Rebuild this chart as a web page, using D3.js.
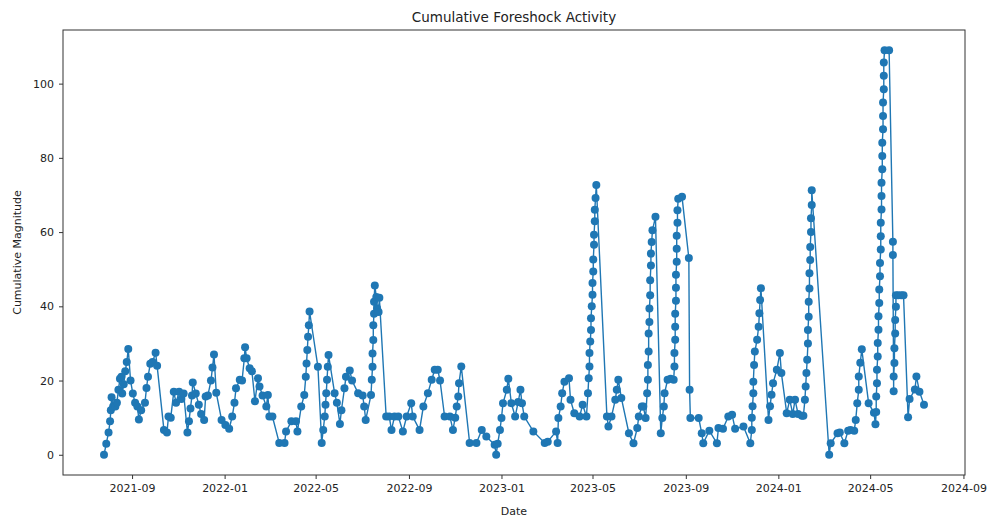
<!DOCTYPE html>
<html>
<head>
<meta charset="utf-8">
<script src="https://cdn.jsdelivr.net/npm/d3@7"></script>
<style>
  body { margin: 0; background: #fff; }
  svg text { font-family: "DejaVu Sans", sans-serif; fill: #222; }
</style>
</head>
<body>
<svg id="chart" width="992" height="518"></svg>
<script>
// Event dates and the running magnitude sum at each event
const dates = [
  "2021-07-26","2021-07-29","2021-08-01","2021-08-03","2021-08-04","2021-08-05","2021-08-07","2021-08-10","2021-08-12","2021-08-14",
  "2021-08-16","2021-08-18","2021-08-19","2021-08-21","2021-08-23","2021-08-25","2021-08-27","2021-08-30","2021-09-02","2021-09-05",
  "2021-09-08","2021-09-10","2021-09-13","2021-09-18","2021-09-20","2021-09-22","2021-09-25","2021-09-28","2021-10-02","2021-10-04",
  "2021-10-13","2021-10-17","2021-10-19","2021-10-22","2021-10-26","2021-10-29","2021-11-02","2021-11-05","2021-11-08","2021-11-13",
  "2021-11-15","2021-11-17","2021-11-19","2021-11-20","2021-11-24","2021-11-28","2021-12-01","2021-12-05","2021-12-07","2021-12-10",
  "2021-12-14","2021-12-16","2021-12-18","2021-12-21","2021-12-28","2022-01-02","2022-01-07","2022-01-11","2022-01-14","2022-01-16",
  "2022-01-21","2022-01-24","2022-01-27","2022-01-28","2022-01-30","2022-02-03","2022-02-06","2022-02-10","2022-02-14","2022-02-16",
  "2022-02-20","2022-02-25","2022-02-27","2022-03-01","2022-03-05","2022-03-14","2022-03-21","2022-03-23","2022-03-30","2022-04-05",
  "2022-04-07","2022-04-12","2022-04-16","2022-04-18","2022-04-19","2022-04-20","2022-04-21","2022-04-22","2022-04-23","2022-05-04",
  "2022-05-09","2022-05-11","2022-05-13","2022-05-14","2022-05-15","2022-05-16","2022-05-17","2022-05-18","2022-05-26","2022-05-29",
  "2022-06-02","2022-06-04","2022-06-08","2022-06-10","2022-06-15","2022-06-18","2022-06-26","2022-07-02","2022-07-04","2022-07-06",
  "2022-07-13","2022-07-14","2022-07-15","2022-07-15","2022-07-16","2022-07-16","2022-07-17","2022-07-17","2022-07-18","2022-07-20",
  "2022-07-21","2022-07-23","2022-07-24","2022-08-02","2022-08-06","2022-08-09","2022-08-13","2022-08-18","2022-08-24","2022-08-29",
  "2022-09-04","2022-09-06","2022-09-15","2022-09-20","2022-09-26","2022-10-01","2022-10-05","2022-10-09","2022-10-12","2022-10-18",
  "2022-10-25","2022-10-29","2022-11-01","2022-11-03","2022-11-05","2022-11-06","2022-11-09","2022-11-20","2022-11-29","2022-12-06",
  "2022-12-12","2022-12-23","2022-12-25","2022-12-27","2022-12-30","2023-01-01","2023-01-03","2023-01-08","2023-01-10","2023-01-14",
  "2023-01-19","2023-01-23","2023-01-26","2023-01-28","2023-01-31","2023-02-12","2023-02-27","2023-03-03","2023-03-14","2023-03-16",
  "2023-03-17","2023-03-20","2023-03-22","2023-03-25","2023-03-31","2023-04-02","2023-04-07","2023-04-14","2023-04-18","2023-04-23",
  "2023-04-25","2023-04-26","2023-04-27","2023-04-27","2023-04-28","2023-04-29","2023-04-29","2023-04-30","2023-05-01","2023-05-01",
  "2023-05-02","2023-05-02","2023-05-03","2023-05-03","2023-05-04","2023-05-04","2023-05-05","2023-05-06","2023-05-20","2023-05-22",
  "2023-05-26","2023-05-31","2023-06-02","2023-06-04","2023-06-08","2023-06-18","2023-06-24","2023-06-29","2023-07-01","2023-07-05",
  "2023-07-07","2023-07-10","2023-07-12","2023-07-13","2023-07-13","2023-07-14","2023-07-14","2023-07-15","2023-07-15","2023-07-16",
  "2023-07-16","2023-07-17","2023-07-17","2023-07-18","2023-07-19","2023-07-23","2023-07-30","2023-08-01","2023-08-03","2023-08-04",
  "2023-08-08","2023-08-12","2023-08-16","2023-08-17","2023-08-17","2023-08-18","2023-08-18","2023-08-18","2023-08-19","2023-08-19",
  "2023-08-19","2023-08-20","2023-08-20","2023-08-20","2023-08-21","2023-08-21","2023-08-22","2023-08-27","2023-09-05","2023-09-06",
  "2023-09-07","2023-09-18","2023-09-22","2023-09-24","2023-10-02","2023-10-12","2023-10-14","2023-10-20","2023-10-27","2023-11-01",
  "2023-11-05","2023-11-16","2023-11-25","2023-11-27","2023-11-27","2023-11-28","2023-11-29","2023-11-29","2023-11-30","2023-12-01",
  "2023-12-04","2023-12-06","2023-12-07","2023-12-08","2023-12-09","2023-12-19","2023-12-21","2023-12-23","2023-12-25","2023-12-30",
  "2024-01-03","2024-01-05","2024-01-12","2024-01-16","2024-01-20","2024-01-23","2024-01-27","2024-02-01","2024-02-03","2024-02-05",
  "2024-02-06","2024-02-07","2024-02-08","2024-02-09","2024-02-09","2024-02-10","2024-02-10","2024-02-11","2024-02-11","2024-02-12",
  "2024-02-12","2024-02-13","2024-02-13","2024-02-14","2024-02-14","2024-03-08","2024-03-10","2024-03-19","2024-03-22","2024-03-28",
  "2024-04-02","2024-04-05","2024-04-10","2024-04-12","2024-04-14","2024-04-16","2024-04-16","2024-04-18","2024-04-20","2024-04-29",
  "2024-05-06","2024-05-08","2024-05-09","2024-05-09","2024-05-10","2024-05-10","2024-05-11","2024-05-11","2024-05-12","2024-05-12",
  "2024-05-13","2024-05-13","2024-05-14","2024-05-14","2024-05-15","2024-05-15","2024-05-15","2024-05-16","2024-05-16","2024-05-16",
  "2024-05-17","2024-05-17","2024-05-17","2024-05-18","2024-05-18","2024-05-18","2024-05-19","2024-05-19","2024-05-19","2024-05-20",
  "2024-05-26","2024-05-31","2024-05-31","2024-06-01","2024-06-01","2024-06-02","2024-06-02","2024-06-03","2024-06-03","2024-06-04",
  "2024-06-04","2024-06-07","2024-06-11","2024-06-14","2024-06-20","2024-06-22","2024-06-29","2024-07-01","2024-07-05","2024-07-11"
];

const magnitudes = [
  0, 3, 6, 9, 12, 15.5, 13, 13, 14, 17.5,
  20.5, 21, 16.5, 19, 22.5, 25, 28.5, 20, 16.5, 14,
  13, 9.5, 12, 14, 18, 21, 24.5, 25, 27.5, 24,
  6.7, 6, 10.3, 10, 17, 14, 17, 15, 16.5, 6,
  9, 12.5, 16, 19.5, 16.5, 13.5, 11, 9.4, 15.7, 16,
  20, 23.5, 27, 16.7, 9.4, 8, 7, 10.3, 14, 17.9,
  20.2, 20, 26, 29, 26, 23.3, 22.5, 14.4, 20.6, 18.4,
  16, 13, 16.1, 10.3, 10.3, 3.2, 3.2, 6.3, 9, 9,
  6.3, 13, 16.1, 21, 24.6, 28.2, 31.8, 34.9, 38.6, 23.7,
  3.2, 6.7, 10.3, 13.5, 16.6, 20.2, 23.7, 26.9, 16.6, 14,
  8.3, 12, 17.9, 21, 22.7, 20, 16.6, 16, 13, 9.4,
  16.1, 20.2, 23.7, 27.3, 30.9, 34.9, 38, 41.2, 45.6, 42.5,
  39.5, 38.5, 42.3, 10.3, 10.3, 6.7, 10.3, 10.3, 6.3, 10.3,
  13.9, 10.3, 6.7, 13, 16.6, 20.2, 22.9, 22.9, 20, 10.3,
  10.3, 6.7, 10, 13, 15.7, 19.3, 23.8, 3.2, 3.2, 6.7,
  4.9, 2.7, 0, 3, 6.7, 9.9, 13.9, 17.5, 20.5, 13.9,
  10.3, 14.2, 17.5, 13.9, 10.3, 6.3, 3.2, 3.5, 6.3, 3.2,
  9.9, 13, 16.6, 19.7, 20.6, 14.8, 11.2, 10.3, 13.5, 10.3,
  16.6, 20.6, 23.8, 27.4, 30.5, 33.6, 36.8, 40, 43.1, 46.3,
  49.4, 52.6, 56.6, 59.3, 62.9, 66, 69.2, 72.7, 10.3, 7.6,
  10.3, 14.8, 17.5, 20.2, 15.3, 5.8, 3.1, 7.2, 10.3, 13,
  13, 9.9, 16.6, 20.2, 24.2, 27.8, 32.7, 35.8, 39.4, 43,
  47, 51, 54.2, 57.3, 60.5, 64.1, 5.8, 9.9, 13, 16.6,
  20.2, 20.5, 20.2, 23.8, 27.4, 31, 34.5, 38, 41.5, 45,
  48.5, 52, 55.5, 59, 62.5, 65.9, 69, 69.5, 53, 17.5,
  9.9, 9.9, 5.8, 3.1, 6.5, 3.1, 7.2, 7, 10.3, 10.8,
  7, 7.6, 3.1, 6.7, 10, 13.1, 16.6, 19.7, 24.2, 27.8,
  31, 34.5, 38.1, 41.7, 44.9, 9.4, 13.1, 16.2, 19.3, 22.9,
  27.4, 22, 11.2, 14.8, 11, 14.8, 11, 10.5, 10.5, 14.8,
  18.4, 22, 25.6, 30, 33.6, 37.2, 41.2, 44.8, 48.9, 52.5,
  56, 60, 63.7, 67.3, 71.3, 0, 3.1, 5.8, 6, 3.1,
  6.5, 6.7, 6.5, 9.4, 13.9, 17.5, 21.1, 24.8, 28.4, 13.9,
  11.3, 8.2, 11.5, 15.7, 19.3, 22.9, 26.5, 30.1, 33.7, 37.3,
  40.9, 44.5, 48.1, 51.7, 55.3, 58.9, 62.5, 66.1, 69.7, 73.3,
  76.9, 80.5, 84.1, 87.7, 91.3, 94.9, 98.5, 102.1, 105.7, 109,
  109, 57.4, 53.8, 17.1, 21.1, 24.7, 28.7, 32.7, 36.3, 39.9,
  43, 43, 43, 43, 10.1, 15, 17.6, 21.1, 17, 13.5
];

const yTickValues = [0, 20, 40, 60, 80, 100];
const xTickDates = ["2021-09-01","2022-01-01","2022-05-01","2022-09-01","2023-01-01",
                    "2023-05-01","2023-09-01","2024-01-01","2024-05-01","2024-09-01"];

const titleText = "Cumulative Foreshock Activity";
const xLabelText = "Date";
const yLabelText = "Cumulative Magnitude";

const parse = d3.utcParse("%Y-%m-%d");
const points = dates.map((d, i) => ({ date: parse(d), value: magnitudes[i] }));

const margin = { left: 63, right: 27, top: 30, bottom: 43 };
const W = 992, H = 518;
const svg = d3.select("#chart");

// Axes padded by 5% of the data span on every side
const [t0, t1] = d3.extent(points, d => d.date);
const tPad = (t1 - t0) * 0.05;
const x = d3.scaleUtc()
  .domain([new Date(+t0 - tPad), new Date(+t1 + tPad)])
  .range([margin.left, W - margin.right]);

const [v0, v1] = d3.extent(points, d => d.value);
const vPad = (v1 - v0) * 0.05;
const y = d3.scaleLinear()
  .domain([v0 - vPad, v1 + vPad])
  .range([H - margin.bottom, margin.top]);

const blue = "#1f77b4";

// Series line
svg.append("path")
  .datum(points)
  .attr("fill", "none")
  .attr("stroke", blue)
  .attr("stroke-width", 1.4)
  .attr("d", d3.line().x(d => x(d.date)).y(d => y(d.value)));

// Markers
svg.append("g").selectAll("circle")
  .data(points)
  .join("circle")
  .attr("cx", d => x(d.date))
  .attr("cy", d => y(d.value))
  .attr("r", 4)
  .attr("fill", blue);

// Frame
svg.append("rect")
  .attr("x", margin.left).attr("y", margin.top)
  .attr("width", W - margin.left - margin.right)
  .attr("height", H - margin.top - margin.bottom)
  .attr("fill", "none").attr("stroke", "#333").attr("stroke-width", 1);

// X axis
const xAxis = svg.append("g")
  .attr("transform", `translate(0,${H - margin.bottom})`)
  .call(d3.axisBottom(x)
    .tickValues(xTickDates.map(parse))
    .tickFormat(d3.utcFormat("%Y-%m"))
    .tickSize(4).tickPadding(5));
xAxis.select(".domain").remove();
xAxis.selectAll("line").attr("stroke", "#333");
xAxis.selectAll("text").attr("font-size", 11).style("fill", "#222");

// Y axis
const yAxis = svg.append("g")
  .attr("transform", `translate(${margin.left},0)`)
  .call(d3.axisLeft(y).tickValues(yTickValues).tickSize(4).tickPadding(5));
yAxis.select(".domain").remove();
yAxis.selectAll("line").attr("stroke", "#333");
yAxis.selectAll("text").attr("font-size", 11).style("fill", "#222");

// Title and axis labels
const cx = (margin.left + W - margin.right) / 2;
svg.append("text").attr("x", cx).attr("y", 22)
  .attr("text-anchor", "middle").attr("font-size", 13.5).text(titleText);
svg.append("text").attr("x", cx).attr("y", 515)
  .attr("text-anchor", "middle").attr("font-size", 11).text(xLabelText);
svg.append("text")
  .attr("transform", `translate(21,${(margin.top + H - margin.bottom) / 2}) rotate(-90)`)
  .attr("text-anchor", "middle").attr("font-size", 11).text(yLabelText);
</script>
</body>
</html>
